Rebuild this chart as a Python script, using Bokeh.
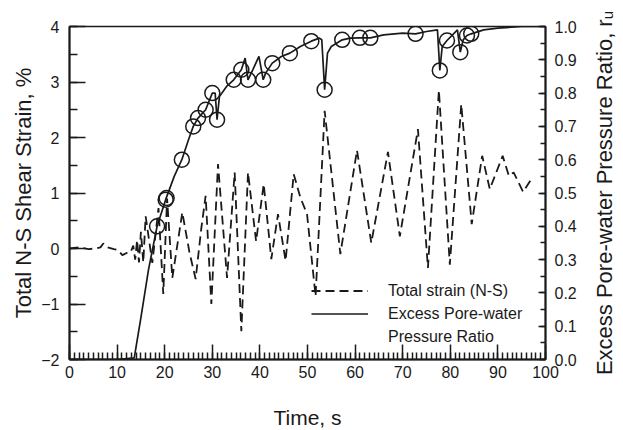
import math
from bokeh.plotting import figure
from bokeh.models import (Range1d, LinearAxis, Legend, LegendItem, PrintfTickFormatter,
                          FixedTicker, Label)
from bokeh.embed import file_html
from bokeh.resources import INLINE

# ---- data ----
t_strain = [0, 2, 4, 5.5, 6.5, 7.1, 8, 9.3, 10.2, 11.1, 12, 12.8, 13.4, 13.8, 14.2, 14.6, 15.0, 15.5,
            16.0, 17.4, 18.7, 19.7, 20.5, 21.6, 23.7, 25.2, 26.5, 27.7, 28.6, 29.8, 31.2, 33.1, 34.7,
            36.1, 37.5, 39.2, 40.8, 42.4, 43.8, 45.4, 47.1, 48.5, 49.9, 51.7, 53.6, 56.9, 60.4, 63.4,
            66.9, 69.4, 73.2, 75.3, 77.6, 79.9, 82.3, 84.5, 86.7, 88.3, 91.0, 92.3, 93.3, 95.3, 96.8]
strain = [0.0, 0.02, -0.01, 0.0, 0.02, 0.09, 0.02, -0.01, -0.03, -0.12, -0.08, -0.07, 0.05, -0.2,
          0.15, -0.25, 0.3, -0.25, 0.58, -0.26, 0.73, -0.82, 0.9, -0.53, 0.65, -0.07, -0.55, 0.37,
          0.95, -1.0, 1.52, -0.53, 1.37, -1.49, 1.37, 0.13, 1.16, -0.19, 0.62, -0.22, 1.34, 0.92,
          0.62, -0.86, 2.48, -0.1, 1.77, 0.1, 1.74, 0.22, 2.15, -0.35, 2.85, -0.29, 2.6, 0.44, 1.67,
          1.07, 1.67, 1.31, 1.37, 1.02, 1.22]

t_ru = [0, 10, 13.6, 14.9, 16.6, 18.4, 20.2, 22.0, 23.6, 25.0, 26.0, 27.0, 28.6, 30.0, 30.6, 31.0,
        31.5, 33.0, 34.5, 36.1, 36.9, 37.5, 38.5, 39.8, 40.7, 41.2, 42.6, 44.5, 46.3, 48.5, 50.8,
        52.5, 53.0, 53.6, 54.2, 55.0, 57.3, 59.0, 61.0, 63.2, 66.0, 70.0, 72.7, 75.0, 77.3, 77.8,
        78.3, 79.3, 81.5, 82.1, 82.7, 83.5, 84.4, 87.0, 90.0, 95.0, 100.0]
ru = [0.0, 0.0, 0.005, 0.117, 0.27, 0.40, 0.48, 0.55, 0.60, 0.66, 0.70, 0.725, 0.75, 0.80, 0.80,
      0.72, 0.79, 0.82, 0.84, 0.87, 0.905, 0.84, 0.87, 0.91, 0.84, 0.86, 0.89, 0.91, 0.92, 0.94,
      0.956, 0.965, 0.96, 0.81, 0.92, 0.94, 0.96, 0.965, 0.966, 0.966, 0.975, 0.98, 0.978, 0.985,
      0.99, 0.868, 0.94, 0.958, 0.99, 0.923, 0.96, 0.973, 0.978, 0.99, 0.995, 1.0, 1.0]

t_circ = [18.4, 20.2, 20.4, 23.6, 26.0, 27.0, 28.6, 30.0, 31.0, 34.5, 36.1, 37.5, 40.7, 42.6, 46.3,
          50.8, 53.6, 57.3, 61.0, 63.2, 72.7, 77.8, 79.3, 82.1, 83.5, 84.4]
ru_circ = [0.40, 0.48, 0.485, 0.60, 0.70, 0.725, 0.75, 0.80, 0.72, 0.84, 0.87, 0.84, 0.84, 0.89, 0.92,
           0.956, 0.81, 0.96, 0.966, 0.966, 0.978, 0.868, 0.958, 0.923, 0.973, 0.978]

x_ticks = [0, 10, 20, 30, 40, 50, 60, 70, 80, 90, 100]
y_ticks = [-2, -1, 0, 1, 2, 3, 4]
ru_ticks = [0.0, 0.1, 0.2, 0.3, 0.4, 0.5, 0.6, 0.7, 0.8, 0.9, 1.0]

FONT = "Liberation Sans"
INK = "#1a1a1a"
FW, FH = 476, 333

p = figure(frame_width=FW, frame_height=FH, output_backend="svg", toolbar_location=None,
           x_range=Range1d(0, 100), y_range=Range1d(-2, 4),
           min_border_left=69, min_border_right=78, min_border_top=26, min_border_bottom=71)
p.extra_y_ranges = {"ru": Range1d(0, 1)}
p.grid.visible = False
p.outline_line_color = INK
p.outline_line_width = 1.5
p.background_fill_color = "white"
p.border_fill_color = "white"

dash = p.line(t_strain, strain, line_color=INK, line_width=1.8, line_dash="9 5")
solid = p.line(t_ru, ru, y_range_name="ru", line_color=INK, line_width=1.7)
p.scatter(t_circ, ru_circ, y_range_name="ru", marker="circle", size=15, fill_alpha=0,
          line_color=INK, line_width=1.5)
blank = p.line([0], [0], line_alpha=0)

def style(ax, major_in, minor_in):
    ax.axis_line_color = INK
    ax.axis_line_width = 2
    ax.major_tick_line_color = INK
    ax.minor_tick_line_color = INK
    ax.major_tick_line_width = 1.5
    ax.minor_tick_line_width = 1.5
    ax.major_tick_in = major_in
    ax.major_tick_out = 0
    ax.minor_tick_in = minor_in
    ax.minor_tick_out = 0
    ax.major_label_text_font = FONT
    ax.major_label_text_font_size = "16px"
    ax.major_label_text_color = INK
    ax.axis_label_text_font = FONT
    ax.axis_label_text_font_style = "normal"
    ax.axis_label_text_color = INK

xa = p.xaxis[0]
xa.ticker = FixedTicker(ticks=x_ticks, minor_ticks=list(range(0, 101)))
style(xa, 15, 7)
xa.axis_label = "Time, s"
xa.axis_label_text_font_size = "21px"
xa.major_label_standoff = 6
xa.axis_label_standoff = 25

ya = p.yaxis[0]
ya.ticker = FixedTicker(ticks=y_ticks, minor_ticks=[-2 + 0.5 * i for i in range(13)])
style(ya, 16, 8)
ya.axis_label = "Total N-S Shear Strain, %"
ya.axis_label_text_font_size = "22px"
ya.major_label_standoff = 10
ya.axis_label_standoff = 2

ra = LinearAxis(y_range_name="ru")
ra.ticker = FixedTicker(ticks=ru_ticks, minor_ticks=[0.05 * i for i in range(21)])
ra.formatter = PrintfTickFormatter(format="%.1f")
style(ra, 7, 5)
ra.major_label_standoff = 9
p.add_layout(ra, "right")

# right-hand axis title, reading bottom-to-top like the reference
p.add_layout(Label(x=25, y=FH / 2, x_units="screen", y_units="screen",
                   text="Excess Pore-water Pressure Ratio, r\u1d64", angle=math.pi / 2,
                   text_align="center", text_baseline="middle", text_font=FONT,
                   text_font_size="22px", text_color=INK), "right")

legend = Legend(items=[
    LegendItem(label="Total strain (N-S)", renderers=[dash]),
    LegendItem(label="Excess Pore-water", renderers=[solid]),
    LegendItem(label="Pressure Ratio", renderers=[blank]),
], location=(242, 11))
legend.border_line_alpha = 0
legend.background_fill_alpha = 0
legend.padding = 0
legend.margin = 0
legend.spacing = 0
legend.glyph_width = 57
legend.glyph_height = 23
legend.label_height = 23
legend.label_standoff = 20
legend.label_text_font = FONT
legend.label_text_font_size = "16px"
legend.label_text_color = INK
p.add_layout(legend, "center")

open("out.html", "w").write(file_html(p, INLINE))
